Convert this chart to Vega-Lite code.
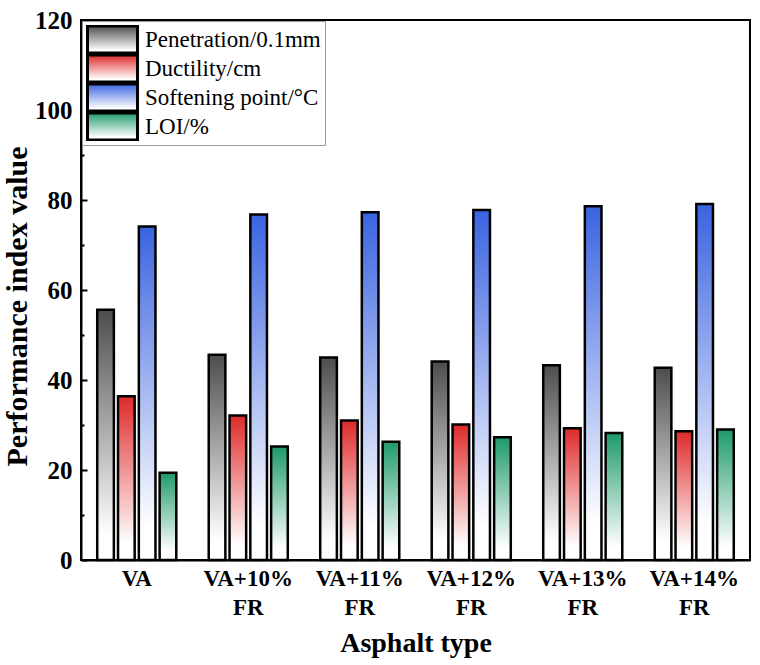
{
  "$schema": "https://vega.github.io/schema/vega-lite/v6.json",
  "width": 669,
  "height": 540,
  "autosize": {"type": "none"},
  "padding": {"left": 81, "top": 20, "right": 10, "bottom": 105},
  "data": {
    "values": [
      {"type": "VA", "index": "Penetration/0.1mm", "value": 55.6},
      {"type": "VA", "index": "Ductility/cm", "value": 36.4},
      {"type": "VA", "index": "Softening point/°C", "value": 74.1},
      {"type": "VA", "index": "LOI/%", "value": 19.4},
      {"type": "VA+10% FR", "index": "Penetration/0.1mm", "value": 45.6},
      {"type": "VA+10% FR", "index": "Ductility/cm", "value": 32.1},
      {"type": "VA+10% FR", "index": "Softening point/°C", "value": 76.8},
      {"type": "VA+10% FR", "index": "LOI/%", "value": 25.2},
      {"type": "VA+11% FR", "index": "Penetration/0.1mm", "value": 45.0},
      {"type": "VA+11% FR", "index": "Ductility/cm", "value": 31.0},
      {"type": "VA+11% FR", "index": "Softening point/°C", "value": 77.3},
      {"type": "VA+11% FR", "index": "LOI/%", "value": 26.3},
      {"type": "VA+12% FR", "index": "Penetration/0.1mm", "value": 44.1},
      {"type": "VA+12% FR", "index": "Ductility/cm", "value": 30.1},
      {"type": "VA+12% FR", "index": "Softening point/°C", "value": 77.8},
      {"type": "VA+12% FR", "index": "LOI/%", "value": 27.3},
      {"type": "VA+13% FR", "index": "Penetration/0.1mm", "value": 43.3},
      {"type": "VA+13% FR", "index": "Ductility/cm", "value": 29.3},
      {"type": "VA+13% FR", "index": "Softening point/°C", "value": 78.6},
      {"type": "VA+13% FR", "index": "LOI/%", "value": 28.2},
      {"type": "VA+14% FR", "index": "Penetration/0.1mm", "value": 42.7},
      {"type": "VA+14% FR", "index": "Ductility/cm", "value": 28.6},
      {"type": "VA+14% FR", "index": "Softening point/°C", "value": 79.1},
      {"type": "VA+14% FR", "index": "LOI/%", "value": 29.0}
    ]
  },
  "mark": {"type": "bar", "stroke": "black", "strokeWidth": 2.5},
  "encoding": {
    "x": {
      "field": "type", "type": "nominal",
      "sort": ["VA", "VA+10% FR", "VA+11% FR", "VA+12% FR", "VA+13% FR", "VA+14% FR"],
      "scale": {"paddingInner": 0, "paddingOuter": 0},
      "axis": {
        "title": "Asphalt type",
        "labelAngle": 0,
        "labelExpr": "split(datum.label, ' ')",
        "labelLineHeight": 29,
        "labelFont": "Liberation Serif", "labelFontSize": 23, "labelFontWeight": "bold", "labelColor": "black",
        "labelPadding": 7,
        "ticks": false,
        "domainColor": "black", "domainWidth": 2,
        "titleFont": "Liberation Serif", "titleFontSize": 28, "titleFontWeight": "bold", "titleColor": "black",
        "titlePadding": 10
      }
    },
    "xOffset": {
      "field": "index", "type": "nominal",
      "sort": ["Penetration/0.1mm", "Ductility/cm", "Softening point/°C", "LOI/%"],
      "scale": {"paddingInner": 0.2, "paddingOuter": 0.78}
    },
    "y": {
      "field": "value", "type": "quantitative",
      "scale": {"domain": [0, 120], "nice": false},
      "axis": {
        "title": "Performance index value",
        "values": [0, 10, 20, 30, 40, 50, 60, 70, 80, 90, 100, 110, 120],
        "labelExpr": "datum.value % 20 == 0 ? datum.label : ''",
        "tickSize": {"condition": {"test": "datum.value % 20 == 0", "value": -6}, "value": -3},
        "tickColor": "black", "tickWidth": 2,
        "grid": false,
        "labelFont": "Liberation Serif", "labelFontSize": 25, "labelFontWeight": "bold", "labelColor": "black",
        "labelPadding": 15,
        "domainColor": "black", "domainWidth": 2,
        "titleFont": "Liberation Serif", "titleFontSize": 30, "titleFontWeight": "bold", "titleColor": "black",
        "titlePadding": 2,
        "titleY": 286
      }
    },
    "color": {
      "field": "index", "type": "nominal",
      "sort": ["Penetration/0.1mm", "Ductility/cm", "Softening point/°C", "LOI/%"],
      "scale": {
        "range": [
          {"expr": "{gradient: 'linear', x1: 0, y1: 0, x2: 0, y2: 1, stops: [{offset: 0, color: '#4d4d4d'}, {offset: 0.9, color: '#ffffff'}]}"},
          {"expr": "{gradient: 'linear', x1: 0, y1: 0, x2: 0, y2: 1, stops: [{offset: 0, color: '#de2a2a'}, {offset: 0.9, color: '#ffffff'}]}"},
          {"expr": "{gradient: 'linear', x1: 0, y1: 0, x2: 0, y2: 1, stops: [{offset: 0, color: '#3a63e0'}, {offset: 0.9, color: '#ffffff'}]}"},
          {"expr": "{gradient: 'linear', x1: 0, y1: 0, x2: 0, y2: 1, stops: [{offset: 0, color: '#1e9a6a'}, {offset: 0.9, color: '#ffffff'}]}"}
        ]
      },
      "legend": {
        "title": null,
        "orient": "top-left",
        "offset": 1,
        "padding": 4,
        "strokeColor": "#999999",
        "fillColor": "white",
        "labelFont": "Liberation Serif", "labelFontSize": 23, "labelColor": "black",
        "labelLimit": 400,
        "symbolType": "M-1,-1.35H4V1.35H-1Z",
        "symbolSize": 400,
        "symbolStrokeColor": "black",
        "symbolStrokeWidth": 3,
        "symbolOpacity": 1,
        "labelOffset": 36,
        "clipHeight": 29,
        "rowPadding": 0
      }
    }
  },
  "config": {
    "font": "Liberation Serif",
    "view": {"stroke": "black", "strokeWidth": 2},
    "background": "white"
  }
}
